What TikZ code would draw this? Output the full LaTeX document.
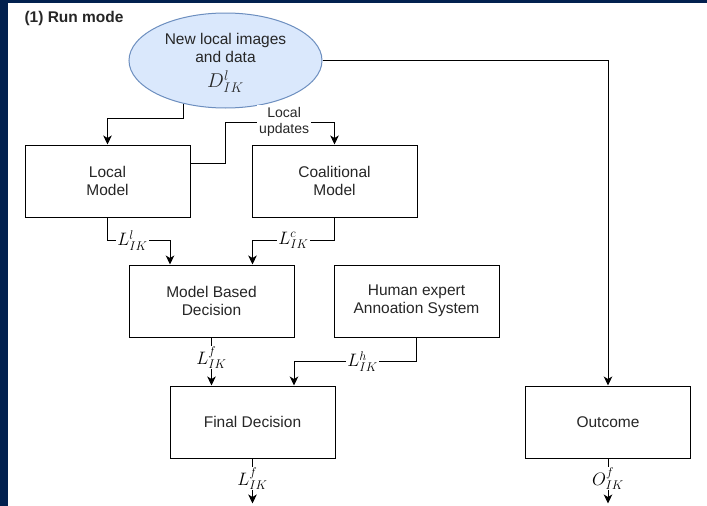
\RequirePackage{fix-cm}
\documentclass[tikz,border=0pt]{standalone}
\usepackage{fontspec}
\setmainfont{Liberation Sans}
\usetikzlibrary{arrows.meta,calc,shapes.geometric}
\definecolor{navy}{HTML}{02214F}
\definecolor{ellfill}{HTML}{DAE8FC}
\definecolor{elldraw}{HTML}{6C8EBF}
\definecolor{txtc}{HTML}{262626}
\begin{document}
\begin{tikzpicture}[x=1pt,y=-1pt,
  txt/.style={font=\fontsize{15.5}{18}\selectfont, text=txtc},
  box/.style={draw, line width=1pt, minimum width=165pt, minimum height=72pt, align=center, txt},
  arr/.style={line width=1pt, -{Stealth[length=9pt,width=8.5pt,inset=2.5pt]}},
  lbl/.style={fill=white, inner sep=1pt, font=\fontsize{18}{20}\selectfont},
]
\useasboundingbox (0,0) rectangle (707,506);
\fill[navy] (0,0) rectangle (707,506);
\fill[white] (7.5,3) rectangle (707,506);

\node[anchor=west, font=\bfseries\fontsize{15.5}{18}\selectfont, text=txtc] (title) at (21,18) {(1) Run mode};

\node[ellipse, draw=elldraw, fill=ellfill, line width=1pt, minimum width=193pt, minimum height=95pt, inner sep=0pt] (ell) at (225.5,60.5) {};
\node[align=center, txt, inner sep=0pt] (ellt) at (225.5,63)
  {New local images\\and data\\[7pt]{\fontsize{20}{20}\selectfont$D^{l}_{IK}$}};

\node[box] (lm) at (107.5,181) {Local\\Model};
\node[box] (cm) at (334.5,181) {Coalitional\\Model};
\node[box] (mbd) at (211.5,301) {Model Based\\Decision};
\node[box] (he) at (416.5,301) {Human expert\\Annoation System};
\node[box] (fd) at (252.5,422) {Final Decision};
\node[box] (out) at (608,422) {Outcome};

\coordinate (lu) at (225,122);
\coordinate (e1) at ([yshift=-45pt]fd.south);
\coordinate (e2) at ([yshift=-45pt]out.south);

\draw[arr] (ell.226) -- ++(0,15) -| (lm.north);
\draw[arr] (ell.east) -| (out.north);
\draw[arr] ([yshift=18pt]lm.east) -| (lu) -| node[pos=0.27, lbl, font=\fontsize{14}{16}\selectfont, text=txtc, align=center, inner sep=2pt] {Local\\updates} (cm.north);
\draw[arr] (lm.south) -- ++(0,23) -| node[pos=0.2, lbl] {$L^{l}_{IK}$} ([xshift=-41.5pt]mbd.north);
\draw[arr] (cm.south) -- ++(0,23) -| node[pos=0.25, lbl] {$L^{c}_{IK}$} ([xshift=41pt]mbd.north);
\draw[arr] (mbd.south) -- node[pos=0.42, lbl] {$L^{f}_{IK}$} ([xshift=-41pt]fd.north);
\draw[arr] (he.south) -- ++(0,24) -| node[pos=0.22, lbl] {$L^{h}_{IK}$} ([xshift=41.5pt]fd.north);
\draw[arr] (fd.south) -- node[pos=0.45, lbl] {$L^{f}_{IK}$} (e1);
\draw[arr] (out.south) -- node[pos=0.45, lbl] {$O^{f}_{IK}$} (e2);
\end{tikzpicture}
\end{document}
